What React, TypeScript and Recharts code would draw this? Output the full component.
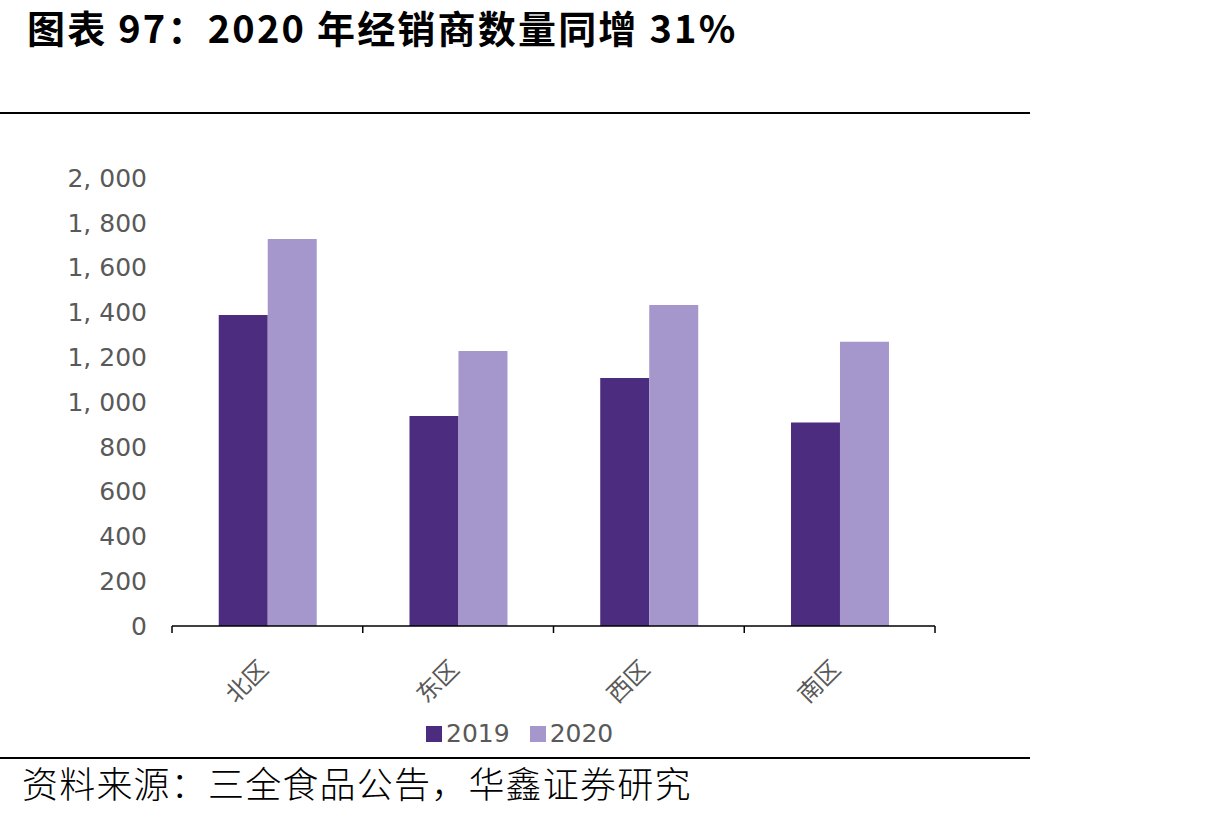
import React from 'react';
import { BarChart, Bar, XAxis, YAxis, Legend } from 'recharts';

const regions = ['北区', '东区', '西区', '南区'];
const dealers2019 = [1388, 937, 1107, 909];
const dealers2020 = [1728, 1228, 1433, 1269];
const seriesNames = ['2019', '2020'];
const yTicks = [0, 200, 400, 600, 800, 1000, 1200, 1400, 1600, 1800, 2000];
const titleText = '图表 97：2020 年经销商数量同增 31%';
const sourceText = '资料来源：三全食品公告，华鑫证券研究';

const data = regions.map((r, i) => ({ region: r, s2019: dealers2019[i], s2020: dealers2020[i] }));

const C1 = '#4B2C7F';
const C2 = '#A597CC';
const GRAY = '#595959';

const fmt = (v: number) =>
  v >= 1000 ? `${Math.floor(v / 1000)}, ${String(v % 1000).padStart(3, '0')}` : String(v);

const XTick = (props: any) => {
  const { x, y, payload, index } = props;
  const half = payload && payload.offset ? payload.offset : (props.width ? props.width / regions.length / 2 : 95);
  const ax = x - 5;
  const ay = y + 37;
  return (
    <g>
      <line x1={x - half} y1={y} x2={x - half} y2={y + 7} stroke="#000" strokeWidth={1.5} />
      {index === regions.length - 1 && (
        <line x1={x + half} y1={y} x2={x + half} y2={y + 7} stroke="#000" strokeWidth={1.5} />
      )}
      <text
        x={ax}
        y={ay}
        textAnchor="end"
        dominantBaseline="central"
        transform={`rotate(-45 ${ax} ${ay})`}
        fill={GRAY}
        fontSize={24}
        fontFamily="'Noto Sans CJK SC', sans-serif"
      >
        {payload.value}
      </text>
    </g>
  );
};

const renderLegend = (props: any) => {
  const items = props.payload || [];
  return (
    <div
      style={{
        height: 30,
        display: 'flex',
        alignItems: 'center',
        paddingLeft: 426,
        fontFamily: "'DejaVu Sans', sans-serif",
        fontSize: 25,
        color: GRAY,
        lineHeight: '30px',
      }}
    >
      {items.map((it: any, i: number) => (
        <span key={i} style={{ display: 'flex', alignItems: 'center', marginRight: 20 }}>
          <span style={{ width: 16, height: 16, background: it.color, marginRight: 4, display: 'inline-block' }} />
          <span>{it.value}</span>
        </span>
      ))}
    </div>
  );
};

export default function App() {
  return (
    <div style={{ position: 'absolute', left: 0, top: 0, width: 1220, height: 819, background: '#fff' }}>
      <svg width={1220} height={819} style={{ position: 'absolute', left: 0, top: 0 }}>
        <text
          x={27}
          y={43}
          fontSize={38}
          fontWeight="bold"
          fontFamily="'Noto Sans CJK SC', sans-serif"
          fill="#000"
          letterSpacing={2.2}
        >
          {titleText}
        </text>
        <line x1={0} y1={113} x2={1030} y2={113} stroke="#000" strokeWidth={2} />
        <line x1={0} y1={758} x2={1030} y2={758} stroke="#000" strokeWidth={2} />
        <text
          x={22}
          y={798}
          fontSize={36}
          fontFamily="'Noto Sans CJK SC', sans-serif"
          fontWeight={300}
          fill="#000"
          letterSpacing={1.2}
        >
          {sourceText}
        </text>
      </svg>
      <div style={{ position: 'absolute', left: 0, top: 0 }}>
        <BarChart
          width={1220}
          height={819}
          data={data}
          margin={{ top: 178, right: 285, bottom: 0, left: 0 }}
          barCategoryGap="24.5%"
          barGap={0}
        >
          <XAxis
            dataKey="region"
            height={163}
            axisLine={{ stroke: '#000', strokeWidth: 1.5 }}
            tickLine={false}
            tickSize={0}
            tickMargin={0}
            interval={0}
            tick={<XTick />}
          />
          <YAxis
            type="number"
            domain={[0, 2000]}
            ticks={yTicks}
            interval={0}
            width={172}
            axisLine={false}
            tickLine={false}
            tickSize={0}
            tickMargin={25}
            tickFormatter={fmt}
            tick={{ fill: GRAY, fontSize: 25, fontFamily: "'DejaVu Sans', sans-serif" }}
          />
          <Legend
            verticalAlign="bottom"
            content={renderLegend}
            wrapperStyle={{ position: 'absolute', left: 0, top: 719, width: 1220, height: 30 }}
          />
          <Bar dataKey="s2019" name={seriesNames[0]} fill={C1} isAnimationActive={false} />
          <Bar dataKey="s2020" name={seriesNames[1]} fill={C2} isAnimationActive={false} />
        </BarChart>
      </div>
    </div>
  );
}
